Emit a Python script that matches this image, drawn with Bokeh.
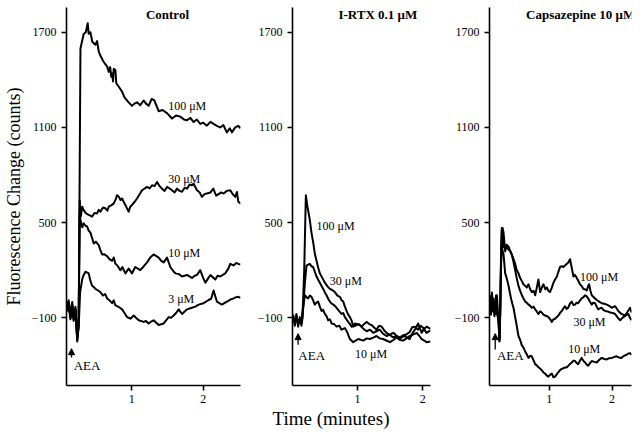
from bokeh.plotting import figure
from bokeh.layouts import row
from bokeh.models import Label, Arrow, NormalHead, Range1d, FixedTicker, Title
from bokeh.embed import file_html
from bokeh.resources import INLINE

FONT = "Liberation Serif"
Y_TICKS = [-100, 500, 1100, 1700]
X_TICKS = [1, 2]
Y_RANGE = (-527, 1856)

# ---------------- data: (time in minutes, fluorescence change) ----------------
CTRL_100 = [(0.10,-20),(0.12,10),(0.145,-80),(0.17,0),(0.19,-100),(0.215,-30),(0.24,-230),(0.26,-150),
            (0.285,1598),(0.33,1689),(0.36,1700),(0.386,1757),(0.40,1690),(0.424,1700),(0.45,1640),(0.494,1621),
            (0.517,1644),(0.54,1580),(0.563,1553),(0.60,1520),(0.63,1500),(0.657,1485),(0.68,1450),(0.70,1480),
            (0.715,1420),(0.727,1440),(0.74,1390),(0.75,1470),(0.773,1462),(0.785,1380),(0.796,1372),(0.83,1350),
            (0.866,1326),(0.90,1290),(0.958,1258),(1.005,1236),(1.04,1250),(1.075,1258),(1.12,1240),(1.167,1270),
            (1.20,1250),(1.237,1236),(1.28,1280),(1.317,1270),(1.377,1202),(1.43,1210),(1.494,1190),(1.563,1156),
            (1.62,1175),(1.679,1168),(1.73,1150),(1.773,1145),(1.82,1160),(1.865,1134),(1.91,1150),(1.958,1122),
            (2.00,1130),(2.05,1111),(2.10,1135),(2.144,1122),(2.19,1110),(2.237,1100),(2.28,1115),(2.33,1069),
            (2.37,1095),(2.40,1069),(2.446,1100),(2.49,1110),(2.52,1095)]
CTRL_30 = [(0.10,-50),(0.12,-10),(0.145,-100),(0.17,-20),(0.19,-90),(0.215,-60),(0.24,-250),(0.26,-120),
           (0.275,640),(0.29,540),(0.31,600),(0.33,579),(0.36,560),(0.40,548),(0.447,537),(0.48,560),(0.517,558),
           (0.54,580),(0.563,569),(0.60,595),(0.633,590),(0.66,575),(0.68,600),(0.72,610),(0.75,621),(0.78,650),
           (0.796,673),(0.82,663),(0.845,642),(0.866,652),(0.89,630),(0.912,611),(0.958,569),(0.98,600),(1.005,611),
           (1.04,630),(1.075,652),(1.145,704),(1.215,725),(1.25,715),(1.284,735),(1.32,730),(1.354,756),(1.39,730),
           (1.424,714),(1.46,700),(1.494,725),(1.53,715),(1.563,704),(1.60,690),(1.633,714),(1.67,700),(1.703,694),
           (1.74,720),(1.773,714),(1.81,740),(1.842,735),(1.865,745),(1.912,704),(1.95,690),(1.981,662),(2.02,680),
           (2.05,683),(2.10,690),(2.14,714),(2.18,670),(2.214,680),(2.25,690),(2.284,683),(2.33,700),(2.377,704),
           (2.41,680),(2.446,662),(2.47,693),(2.49,631),(2.52,620)]
CTRL_10 = [(0.10,-60),(0.12,-20),(0.145,-110),(0.17,-40),(0.19,-120),(0.215,-50),(0.24,-200),(0.26,-100),
           (0.275,560),(0.285,517),(0.31,470),(0.33,496),(0.355,480),(0.377,476),(0.40,450),(0.424,437),(0.45,400),
           (0.47,368),(0.50,380),(0.54,358),(0.56,330),(0.587,299),(0.62,300),(0.657,289),(0.69,270),(0.727,259),
           (0.75,280),(0.773,240),(0.80,230),(0.843,200),(0.87,220),(0.912,180),(0.958,210),(1.005,180),(1.05,220),
           (1.12,200),(1.17,225),(1.215,249),(1.26,280),(1.307,299),(1.34,290),(1.377,279),(1.41,260),(1.447,249),
           (1.494,279),(1.54,220),(1.58,195),(1.61,180),(1.66,175),(1.703,160),(1.773,170),(1.842,151),(1.88,165),
           (1.912,170),(1.958,200),(2.00,150),(2.03,121),(2.07,150),(2.10,170),(2.168,141),(2.20,165),(2.237,160),
           (2.307,180),(2.35,210),(2.377,240),(2.423,230),(2.46,245),(2.49,240),(2.52,235)]
CTRL_3 = [(0.10,-30),(0.12,-5),(0.145,-90),(0.17,-15),(0.19,-110),(0.215,-45),(0.24,-240),(0.26,-160),
          (0.28,60),(0.308,141),(0.33,170),(0.354,190),(0.38,185),(0.40,180),(0.42,140),(0.447,102),(0.47,95),
          (0.494,82),(0.52,75),(0.563,62),(0.60,40),(0.63,50),(0.657,22),(0.69,10),(0.727,-8),(0.75,10),(0.77,-20),
          (0.796,-27),(0.83,-35),(0.866,-47),(0.90,-70),(0.936,-96),(0.982,-106),(1.029,-86),(1.06,-100),
          (1.098,-116),(1.168,-126),(1.20,-120),(1.237,-136),(1.27,-125),(1.307,-116),(1.34,-130),(1.377,-146),
          (1.447,-136),(1.517,-96),(1.55,-100),(1.587,-86),(1.62,-70),(1.657,-47),(1.703,-76),(1.74,-60),
          (1.773,-47),(1.842,-37),(1.89,-30),(1.935,-17),(2.005,-8),(2.075,12),(2.11,20),(2.144,72),(2.19,2),
          (2.26,-17),(2.33,2),(2.38,15),(2.423,22),(2.46,30),(2.49,32),(2.52,25)]

RTX_100 = [(0.01,-96),(0.035,-136),(0.06,-76),(0.086,-156),(0.112,-106),(0.138,-136),(0.154,-90),
           (0.18,200),(0.205,673),(0.23,600),(0.266,517),(0.29,440),(0.317,377),(0.345,300),(0.369,259),
           (0.395,215),(0.42,180),(0.46,150),(0.497,121),(0.535,100),(0.574,82),(0.61,75),(0.651,62),(0.69,40),
           (0.728,32),(0.755,10),(0.779,2),(0.805,-30),(0.83,-57),(0.856,-80),(0.882,-96),(0.91,-120),(0.933,-156),
           (0.985,-146),(1.02,-140),(1.06,-156),(1.10,-140),(1.14,-126),(1.18,-140),(1.215,-146),(1.25,-160),
           (1.29,-175),(1.33,-150),(1.37,-156),(1.41,-180),(1.446,-195),(1.50,-210),(1.548,-224),(1.60,-215),
           (1.65,-234),(1.69,-220),(1.728,-215),(1.76,-225),(1.80,-234),(1.84,-200),(1.88,-175),(1.93,-136),
           (1.96,-170),(1.985,-195),(2.02,-170),(2.06,-156),(2.12,-170)]
RTX_30 = [(0.01,-110),(0.035,-120),(0.06,-90),(0.086,-140),(0.112,-96),(0.138,-150),(0.154,-100),
          (0.19,121),(0.215,229),(0.24,235),(0.266,240),(0.29,225),(0.317,220),(0.343,190),(0.369,160),(0.395,140),
          (0.42,121),(0.446,100),(0.471,82),(0.497,60),(0.523,42),(0.548,20),(0.574,2),(0.60,-10),(0.626,-17),
          (0.651,-25),(0.677,-37),(0.72,-60),(0.754,-76),(0.78,-70),(0.805,-96),(0.83,-110),(0.856,-126),
          (0.882,-140),(0.908,-156),(0.96,-136),(1.035,-146),(1.09,-170),(1.14,-185),(1.19,-175),(1.24,-195),
          (1.29,-185),(1.34,-175),(1.39,-200),(1.446,-215),(1.50,-205),(1.55,-195),(1.60,-215),(1.65,-224),
          (1.70,-210),(1.75,-205),(1.80,-190),(1.84,-160),(1.88,-156),(1.93,-175),(1.97,-150),(2.01,-165),
          (2.06,-195),(2.12,-180)]
RTX_10 = [(0.01,-80),(0.035,-150),(0.06,-100),(0.086,-130),(0.112,-120),(0.138,-110),(0.154,-60),
          (0.163,-37),(0.19,42),(0.215,30),(0.24,22),(0.266,40),(0.292,32),(0.317,10),(0.343,-17),(0.369,-5),
          (0.394,2),(0.42,-30),(0.446,-57),(0.471,-50),(0.497,-76),(0.523,-90),(0.548,-116),(0.574,-110),
          (0.60,-136),(0.64,-140),(0.677,-156),(0.72,-150),(0.754,-175),(0.805,-165),(0.84,-190),(0.882,-234),
          (0.933,-254),(1.01,-234),(1.086,-244),(1.14,-230),(1.19,-234),(1.24,-225),(1.29,-215),(1.34,-230),
          (1.39,-234),(1.45,-245),(1.497,-254),(1.55,-240),(1.60,-224),(1.65,-240),(1.70,-244),(1.75,-230),
          (1.80,-215),(1.86,-205),(1.91,-195),(1.95,-215),(1.985,-234),(2.03,-245),(2.06,-254),(2.12,-250)]

CPZ_100 = [(0.05,42),(0.07,-37),(0.084,60),(0.10,-20),(0.11,22),(0.125,-50),(0.137,-76),(0.15,40),(0.164,42),
           (0.18,-60),(0.19,-96),(0.205,-244),(0.217,-37),(0.232,350),(0.243,457),(0.255,466),(0.27,437),
           (0.296,318),(0.32,360),(0.35,348),(0.375,320),(0.40,299),(0.43,270),(0.455,240),(0.48,200),(0.508,180),
           (0.535,150),(0.562,131),(0.59,110),(0.615,101),(0.64,90),(0.668,111),(0.695,80),(0.72,62),(0.75,70),
           (0.774,42),(0.80,90),(0.826,141),(0.853,62),(0.88,90),(0.906,111),(0.935,80),(0.96,91),(0.985,70),
           (1.01,62),(1.04,90),(1.065,121),(1.09,140),(1.12,160),(1.145,190),(1.17,220),(1.20,225),(1.225,220),
           (1.25,230),(1.28,240),(1.305,250),(1.33,269),(1.36,210),(1.384,160),(1.41,170),(1.438,151),(1.465,130),
           (1.49,111),(1.515,100),(1.543,82),(1.57,80),(1.597,72),(1.62,100),(1.634,111),(1.655,70),(1.677,42),
           (1.72,25),(1.756,12),(1.80,0),(1.836,-8),(1.876,-12),(1.916,-17),(1.955,-25),(1.995,-37),(2.05,-27),
           (2.10,-57),(2.15,-76),(2.207,-86),(2.25,-60),(2.287,-37),(2.31,-67)]
CPZ_30 = [(0.05,20),(0.07,-60),(0.084,30),(0.10,-40),(0.11,0),(0.125,-80),(0.137,-60),(0.15,10),(0.164,-30),
          (0.18,-90),(0.19,-110),(0.205,-230),(0.217,-60),(0.232,300),(0.243,466),(0.255,420),(0.27,348),
          (0.296,340),(0.32,345),(0.35,330),(0.38,320),(0.40,300),(0.43,250),(0.455,200),(0.48,150),(0.508,101),
          (0.535,70),(0.562,42),(0.59,20),(0.615,2),(0.64,-5),(0.668,-17),(0.695,-25),(0.72,-37),(0.75,-30),
          (0.774,-47),(0.80,-60),(0.826,-76),(0.853,-60),(0.88,-67),(0.906,-80),(0.933,-86),(0.96,-90),
          (0.986,-96),(1.015,-110),(1.04,-126),(1.065,-110),(1.092,-106),(1.12,-95),(1.145,-86),(1.17,-70),
          (1.2,-57),(1.225,-40),(1.25,-27),(1.275,-45),(1.30,-37),(1.33,-10),(1.357,2),(1.385,-20),(1.41,-17),
          (1.435,-5),(1.46,-8),(1.49,10),(1.515,22),(1.545,30),(1.57,42),(1.595,35),(1.62,22),(1.65,0),
          (1.676,-17),(1.70,-5),(1.73,-8),(1.755,-30),(1.78,-47),(1.81,-40),(1.836,-37),(1.86,-50),(1.89,-57),
          (1.93,-60),(1.97,-67),(2.01,-70),(2.05,-76),(2.09,-100),(2.13,-116),(2.155,-105),(2.18,-96),(2.22,-85),
          (2.26,-76),(2.285,-100),(2.31,-116)]
CPZ_10 = [(0.05,0),(0.07,-80),(0.084,10),(0.10,-60),(0.11,-10),(0.125,-90),(0.137,-40),(0.15,-20),(0.164,-70),
          (0.18,-100),(0.19,-130),(0.205,-250),(0.217,-80),(0.232,250),(0.243,350),(0.255,320),(0.27,300),
          (0.296,180),(0.32,150),(0.35,101),(0.375,50),(0.40,2),(0.43,-40),(0.455,-96),(0.48,-150),(0.508,-215),
          (0.535,-240),(0.562,-274),(0.59,-290),(0.615,-313),(0.64,-330),(0.668,-353),(0.695,-340),(0.72,-343),
          (0.75,-370),(0.774,-392),(0.80,-400),(0.826,-412),(0.853,-420),(0.88,-432),(0.906,-445),(0.933,-452),
          (0.96,-465),(0.986,-471),(1.01,-460),(1.04,-452),(1.065,-475),(1.092,-471),(1.12,-455),(1.145,-442),
          (1.17,-430),(1.2,-422),(1.24,-415),(1.28,-412),(1.32,-395),(1.357,-382),(1.385,-370),(1.41,-373),
          (1.435,-385),(1.46,-392),(1.49,-370),(1.515,-353),(1.54,-370),(1.57,-382),(1.595,-395),(1.62,-402),
          (1.65,-385),(1.676,-373),(1.716,-378),(1.756,-382),(1.796,-365),(1.836,-353),(1.876,-360),(1.916,-363),
          (1.955,-355),(1.995,-353),(2.03,-348),(2.07,-343),(2.11,-350),(2.15,-353),(2.19,-340),(2.23,-333),
          (2.26,-325),(2.287,-323),(2.31,-333)]

# panel titles, trace labels (text, x, y), AEA marker (x, y_tail, y_head, text x, text y)
PANEL_TITLES = ["Control", "I-RTX 0.1 μM", "Capsazepine 10 μM"]
TITLE_Y = 1812
TRACE_LABELS = [
    [("100 μM", 1.51, 1236), ("30 μM", 1.51, 775), ("10 μM", 1.51, 310), ("3 μM", 1.51, 20)],
    [("100 μM", 0.37, 476), ("30 μM", 0.574, 131), ("10 μM", 0.96, -330)],
    [("100 μM", 1.49, 160), ("30 μM", 1.384, -126), ("10 μM", 1.30, -294)],
]
AEA = [(0.16, -350, -295, 0.19, -402), (0.086, -270, -200, 0.09, -335), (0.137, -300, -200, 0.165, -335)]
XLABEL = "Time (minutes)"


def panel(traces, x_range, width, b_left, b_right, idx, title_x, title_align, ylabel=None):
    p = figure(width=width, height=436, output_backend="svg", toolbar_location=None,
               x_range=Range1d(*x_range), y_range=Range1d(*Y_RANGE),
               min_border_left=b_left, min_border_right=b_right, min_border_top=7,
               min_border_bottom=51, title=None)
    p.outline_line_color = None
    p.xgrid.visible = False
    p.ygrid.visible = False
    p.background_fill_color = "white"
    p.border_fill_color = "white"
    for ax in (p.xaxis[0], p.yaxis[0]):
        ax.axis_line_width = 1.6
        ax.axis_line_color = "black"
        ax.major_tick_line_width = 1.6
        ax.major_tick_line_color = "black"
        ax.major_tick_out = 5
        ax.major_tick_in = 0
        ax.minor_tick_line_color = None
        ax.major_label_text_font = FONT
        ax.major_label_text_font_size = "12px"
        ax.major_label_text_color = "black"
    p.xaxis[0].major_label_standoff = 4
    p.yaxis[0].major_label_standoff = 5
    p.xaxis[0].ticker = FixedTicker(ticks=X_TICKS)
    p.yaxis[0].ticker = FixedTicker(ticks=Y_TICKS)
    if ylabel:
        p.yaxis[0].axis_label = ylabel
        p.yaxis[0].axis_label_text_font = FONT
        p.yaxis[0].axis_label_text_font_size = "18px"
        p.yaxis[0].axis_label_text_font_style = "normal"
        p.yaxis[0].axis_label_text_color = "black"
        p.yaxis[0].axis_label_standoff = 5
    for tr in traces:
        xs = [a for a, b in tr]
        ys = [b for a, b in tr]
        p.line(xs, ys, line_color="black", line_width=2.0, line_join="round")
    p.add_layout(Label(x=title_x, y=TITLE_Y, text=PANEL_TITLES[idx], text_font=FONT,
                       text_font_size="13px", text_font_style="bold", text_align=title_align,
                       text_baseline="middle", text_color="black"))
    for txt, lx, ly in TRACE_LABELS[idx]:
        p.add_layout(Label(x=lx, y=ly, text=txt, text_font=FONT, text_font_size="12px",
                           text_align="left", text_baseline="middle", text_color="black"))
    ax_, y0, y1, tx, ty = AEA[idx]
    p.add_layout(Arrow(end=NormalHead(size=6, fill_color="black", line_color="black"),
                       x_start=ax_, y_start=y0, x_end=ax_, y_end=y1,
                       line_color="black", line_width=1.3))
    p.add_layout(Label(x=tx, y=ty, text="AEA", text_font=FONT, text_font_size="13px",
                       text_align="left", text_baseline="middle", text_color="black"))
    return p


p1 = panel([CTRL_100, CTRL_30, CTRL_10, CTRL_3], (0.09, 2.52), 248, 66, 8, 0, 1.50, "center",
           ylabel="Fluorescence Change (counts)")
p2 = panel([RTX_100, RTX_30, RTX_10], (0.0, 2.12), 190, 44, 8, 1, 1.31, "center")
p3 = panel([CPZ_100, CPZ_30, CPZ_10], (0.046, 2.31), 200, 51, 7, 2, 2.37, "right")

p2.add_layout(Title(text=XLABEL, text_font=FONT, text_font_size="19px", text_font_style="normal",
                    text_color="black", align="left", offset=-20, standoff=0), "below")

layout = row(p1, p2, p3)
open("out.html", "w").write(file_html(layout, INLINE))
